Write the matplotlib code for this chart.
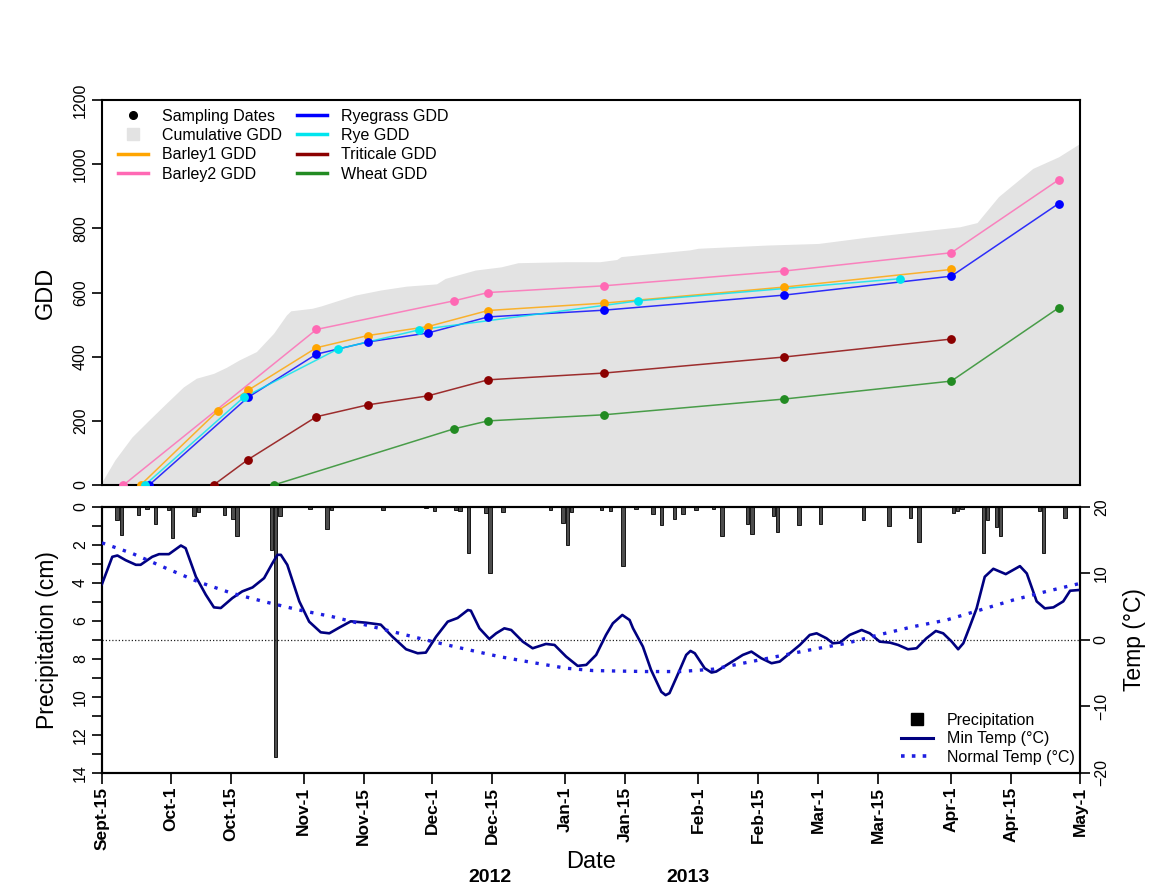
import numpy as np
import matplotlib
matplotlib.use("Agg")
import matplotlib.pyplot as plt
from matplotlib.lines import Line2D
from matplotlib.ticker import MultipleLocator

plt.rcParams['font.family'] = ['Liberation Sans', 'DejaVu Sans']

START = np.datetime64('2012-09-15')


def days(dates):
    return (np.array(dates, dtype='datetime64[D]') - START).astype(float)


# ---------------- GDD data ----------------
barley1_dates = ["2012-09-24", "2012-10-12", "2012-10-19", "2012-11-04", "2012-11-16",
                 "2012-11-30", "2012-12-14", "2013-01-10", "2013-02-21", "2013-04-01"]
barley1_gdd = [0, 231, 295, 428, 466, 494, 544, 567, 617, 672]

barley2_dates = ["2012-09-20", "2012-11-04", "2012-12-06", "2012-12-14", "2013-01-10",
                 "2013-02-21", "2013-04-01", "2013-04-26"]
barley2_gdd = [0, 485, 574, 600, 621, 667, 724, 951]

ryegrass_dates = ["2012-09-26", "2012-10-19", "2012-11-04", "2012-11-16", "2012-11-30",
                  "2012-12-14", "2013-01-10", "2013-02-21", "2013-04-01", "2013-04-26"]
ryegrass_gdd = [0, 273, 408, 446, 474, 524, 545, 592, 651, 877]

rye_dates = ["2012-09-25", "2012-10-18", "2012-11-09", "2012-11-28", "2013-01-18", "2013-03-20"]
rye_gdd = [0, 273, 424, 484, 574, 643]

triticale_dates = ["2012-10-11", "2012-10-19", "2012-11-04", "2012-11-16", "2012-11-30",
                   "2012-12-14", "2013-01-10", "2013-02-21", "2013-04-01"]
triticale_gdd = [0, 79, 213, 250, 278, 328, 349, 399, 455]

wheat_dates = ["2012-10-25", "2012-12-06", "2012-12-14", "2013-01-10", "2013-02-21",
               "2013-04-01", "2013-04-26"]
wheat_gdd = [0, 175, 200, 219, 268, 324, 552]

# cumulative GDD (days since Sept-15, GDD)
cum_day = [0, 3, 7, 11, 15, 19, 22, 26, 29, 32, 36, 40, 43, 44, 49, 51, 55, 59, 65, 71,
           78, 80, 87, 93, 97, 108, 116, 120, 121, 137, 139, 155, 167, 178, 190, 200,
           204, 209, 217, 223, 228]
cum_gdd = [10, 78, 150, 203, 255, 306, 333, 348, 367, 390, 416, 473, 530, 543, 551, 558,
           575, 592, 608, 620, 627, 644, 670, 680, 693, 696, 696, 703, 712, 733, 738,
           748, 753, 772, 790, 805, 818, 899, 987, 1023, 1065]

# ---------------- Weather data ----------------
precip_day = [3, 4, 8, 10, 12, 15, 16, 21, 22, 28, 30, 31, 39, 40, 41, 48, 52, 53, 65,
              75, 77, 82, 83, 85, 89, 90, 93, 104, 107, 108, 109, 116, 118, 121, 124,
              128, 130, 133, 135, 138, 142, 144, 150, 151, 156, 157, 162, 167, 177, 183,
              188, 190, 198, 199, 200, 205, 206, 208, 209, 218, 219, 224]
precip_cm = [0.7, 1.47, 0.42, 0.1, 0.91, 0.15, 1.65, 0.47, 0.26, 0.4, 0.65, 1.54, 2.26,
             13.15, 0.5, 0.1, 1.16, 0.15, 0.15, 0.08, 0.2, 0.15, 0.2, 2.44, 0.3, 3.49,
             0.25, 0.15, 0.87, 2.0, 0.25, 0.15, 0.2, 3.09, 0.1, 0.36, 0.93, 0.65, 0.36,
             0.15, 0.1, 1.51, 0.9, 1.45, 0.5, 1.3, 0.93, 0.88, 0.7, 1.0, 0.6, 1.86, 0.3,
             0.2, 0.1, 2.44, 0.7, 1.05, 1.51, 0.2, 2.44, 0.6]

tmin_day = [0, 2.4, 3.6, 5.5, 7.9, 9.0, 11.7, 13.3, 15.6, 18.4, 19.5, 21.9, 24.2, 26.1,
            27.7, 30.4, 32.7, 35.1, 37.8, 39.7, 40.9, 41.7, 43.2, 46.0, 48.3, 51.0, 53.0,
            55.3, 58.0, 61.5, 65.0, 67.7, 70.9, 73.6, 75.5, 77.9, 80.6, 82.9, 85.3, 86.0,
            88.0, 90.3, 91.9, 93.8, 95.4, 98.1, 100.4, 103.5, 105.5, 108.2, 110.9, 112.9,
            115.2, 117.5, 119.1, 121.3, 123.0, 123.8, 126.1, 128.0, 130.4, 131.4, 132.3,
            134.7, 136.2, 137.2, 138.2, 140.5, 142.1, 143.2, 146.3, 149.4, 151.4, 153.7,
            156.1, 158.0, 159.9, 162.7, 165.0, 166.6, 168.9, 170.4, 172.0, 174.3, 177.1,
            179.0, 181.3, 183.7, 185.6, 187.9, 189.9, 192.2, 194.4, 196.1, 198.1, 199.6,
            200.8, 202.3, 203.9, 205.8, 207.8, 210.7, 214.0, 215.6, 217.9, 219.8, 221.8,
            224.1, 225.7, 227.6]
tmin_c = [8.4, 12.5, 12.7, 12.0, 11.3, 11.3, 12.5, 12.9, 12.9, 14.2, 13.8, 9.5, 6.8, 4.9,
          4.8, 6.3, 7.3, 7.9, 9.3, 11.5, 12.8, 12.8, 11.3, 5.8, 2.75, 1.15, 1.0, 1.85, 2.8,
          2.6, 2.3, 0.5, -1.4, -2.0, -1.9, 0.5, 2.75, 3.3, 4.5, 4.4, 1.75, 0.15, 1.0, 1.75,
          1.5, -0.25, -1.25, -0.6, -0.75, -2.5, -3.9, -3.75, -2.25, 0.75, 2.5, 3.76, 3.0,
          1.75, -1.0, -4.5, -7.8, -8.3, -8.0, -4.5, -2.25, -1.65, -2.0, -4.25, -4.9, -4.75,
          -3.5, -2.25, -1.75, -2.75, -3.5, -3.25, -2.25, -0.75, 0.75, 1.0, 0.25, -0.5,
          -0.4, 0.75, 1.5, 1.0, -0.25, -0.4, -0.75, -1.4, -1.25, 0.25, 1.35, 1.0, -0.25,
          -1.4, -0.5, 2.0, 4.75, 9.5, 10.7, 9.9, 11.1, 10.0, 5.8, 4.75, 4.9, 5.8, 7.4, 7.5]

tnorm_day = [0, 7.1, 14.9, 22.6, 30.4, 38.2, 46.0, 53.7, 61.5, 69.3, 77.1, 84.9, 92.6,
             100.4, 108.2, 114.4, 119.1, 126.9, 134.7, 142.4, 150.2, 158.0, 165.8, 173.6,
             181.3, 189.1, 196.9, 204.7, 212.4, 220.2, 228]
tnorm_c = [14.6, 13.0, 10.8, 8.7, 7.0, 5.7, 4.5, 3.5, 2.25, 1.0, -0.25, -1.4, -2.5, -3.4,
           -4.25, -4.6, -4.66, -4.75, -4.75, -4.4, -3.4, -2.4, -1.4, -0.5, 0.8, 2.0, 3.0,
           4.5, 6.0, 7.3, 8.5]

tick_dates = ["2012-09-15", "2012-10-01", "2012-10-15", "2012-11-01", "2012-11-15",
              "2012-12-01", "2012-12-15", "2013-01-01", "2013-01-15", "2013-02-01",
              "2013-02-15", "2013-03-01", "2013-03-15", "2013-04-01", "2013-04-15",
              "2013-05-01"]
tick_labels = ["Sept-15", "Oct-1", "Oct-15", "Nov-1", "Nov-15", "Dec-1", "Dec-15",
               "Jan-1", "Jan-15", "Feb-1", "Feb-15", "Mar-1", "Mar-15", "Apr-1",
               "Apr-15", "May-1"]

crops = [
    ("Barley1 GDD", barley1_dates, barley1_gdd, "#FFA500"),
    ("Barley2 GDD", barley2_dates, barley2_gdd, "#FF69B4"),
    ("Ryegrass GDD", ryegrass_dates, ryegrass_gdd, "#0000FF"),
    ("Rye GDD", rye_dates, rye_gdd, "#00E5EE"),
    ("Triticale GDD", triticale_dates, triticale_gdd, "#8B0000"),
    ("Wheat GDD", wheat_dates, wheat_gdd, "#228B22"),
]

XMAX = float(days(["2013-05-01"])[0])

fig = plt.figure(figsize=(11.51, 8.90), dpi=100)

# ---------------- Top panel ----------------
ax1 = fig.add_axes([0.0886, 0.455, 0.8497, 0.4326])
ax1.fill_between(cum_day, 0, cum_gdd, color="#E3E3E3", lw=0, zorder=1)
for name, d, g, c in crops:
    x = days(d)
    ax1.plot(x, g, color=c, lw=1.1, alpha=0.8, zorder=3)
    ax1.plot(x, g, color=c, lw=0, marker='o', ms=5.3, zorder=4)
ax1.set_xlim(0, XMAX)
ax1.set_ylim(0, 1200)
ax1.set_yticks(range(0, 1201, 200))
ax1.tick_params(axis='x', bottom=False, labelbottom=False)
ax1.tick_params(axis='y', direction='out', length=7, width=1.2, labelsize=11.5, pad=3)
plt.setp(ax1.get_yticklabels(), rotation=90, va='center', ha='right')
ax1.set_ylabel("GDD", fontsize=17, labelpad=12)
for s in ax1.spines.values():
    s.set_linewidth(1.5)

h_top = [
    Line2D([], [], ls='none', marker='o', color='black', ms=5.5),
    Line2D([], [], ls='none', marker='s', color='#E3E3E3', ms=9),
    Line2D([], [], color="#FFA500", lw=2.5),
    Line2D([], [], color="#FF69B4", lw=2.5),
    Line2D([], [], color="#0000FF", lw=2.5),
    Line2D([], [], color="#00E5EE", lw=2.5),
    Line2D([], [], color="#8B0000", lw=2.5),
    Line2D([], [], color="#228B22", lw=2.5),
]
l_top = ["Sampling Dates", "Cumulative GDD", "Barley1 GDD", "Barley2 GDD",
         "Ryegrass GDD", "Rye GDD", "Triticale GDD", "Wheat GDD"]
ax1.legend(h_top, l_top, ncol=2, loc='upper left', bbox_to_anchor=(0.016, 0.978),
           frameon=False, fontsize=11.5, handlelength=1.9, handletextpad=0.9,
           columnspacing=0.9, labelspacing=0.28, borderpad=0, borderaxespad=0)

# ---------------- Bottom panel ----------------
ax2 = fig.add_axes([0.0886, 0.1315, 0.8497, 0.2989])
ax2.bar(np.array(precip_day) + 0.5, precip_cm, width=0.8, color="#4D4D4D",
        edgecolor="black", lw=0.6, zorder=2)
ax2.set_xlim(0, XMAX)
ax2.set_ylim(14, 0)
ax2.set_yticks(range(0, 15, 2))
ax2.yaxis.set_minor_locator(MultipleLocator(1))
ax2.tick_params(axis='y', which='both', direction='out', length=7, width=1.2,
                labelsize=11.5, pad=3)
plt.setp(ax2.get_yticklabels(), rotation=90, va='center', ha='right')
ax2.set_ylabel("Precipitation (cm)", fontsize=16.5, labelpad=10)

ax2.set_xticks(days(tick_dates))
ax2.set_xticklabels(tick_labels, rotation=90, fontweight='bold', fontsize=12.5)
ax2.tick_params(axis='x', direction='out', length=8, width=1.2, pad=2)
ax2.set_xlabel("Date", fontsize=17, labelpad=1)

ax3 = ax2.twinx()
ax3.set_ylim(-20, 20)
ax3.axhline(0, color="#222222", lw=0.9, ls=(0, (1, 1.6)), zorder=1)
ax3.plot(tmin_day, tmin_c, color="#000080", lw=1.9, zorder=3)
ax3.plot(tnorm_day, tnorm_c, color="#1F1FE0", lw=2.4, ls=(0, (1, 2.3)), zorder=3)
ax3.set_yticks([-20, -10, 0, 10, 20])
ax3.tick_params(axis='y', direction='out', length=7, width=1.2, labelsize=11.5, pad=3)
plt.setp(ax3.get_yticklabels(), rotation=90, va='center', ha='left')
ax3.set_ylabel("Temp (°C)", fontsize=16.5, labelpad=10)
ax3.set_xlim(0, XMAX)
for a in (ax2, ax3):
    for s in a.spines.values():
        s.set_linewidth(1.5)

h_bot = [
    Line2D([], [], ls='none', marker='s', color='black', ms=8),
    Line2D([], [], color="#000080", lw=2.2),
    Line2D([], [], color="#1F1FE0", lw=2.6, ls=(0, (1, 2))),
]
l_bot = ["Precipitation", "Min Temp (°C)", "Normal Temp (°C)"]
ax3.legend(h_bot, l_bot, loc='lower right', bbox_to_anchor=(0.995, 0.03),
           frameon=False, fontsize=11.5, handlelength=2.0, handletextpad=0.9,
           labelspacing=0.22, borderpad=0, borderaxespad=0)

fig.text(490 / 1151, 1 - 877 / 890, "2012", ha='center', va='center',
         fontweight='bold', fontsize=14)
fig.text(688 / 1151, 1 - 877 / 890, "2013", ha='center', va='center',
         fontweight='bold', fontsize=14)

fig.savefig("out.png", dpi=100)
